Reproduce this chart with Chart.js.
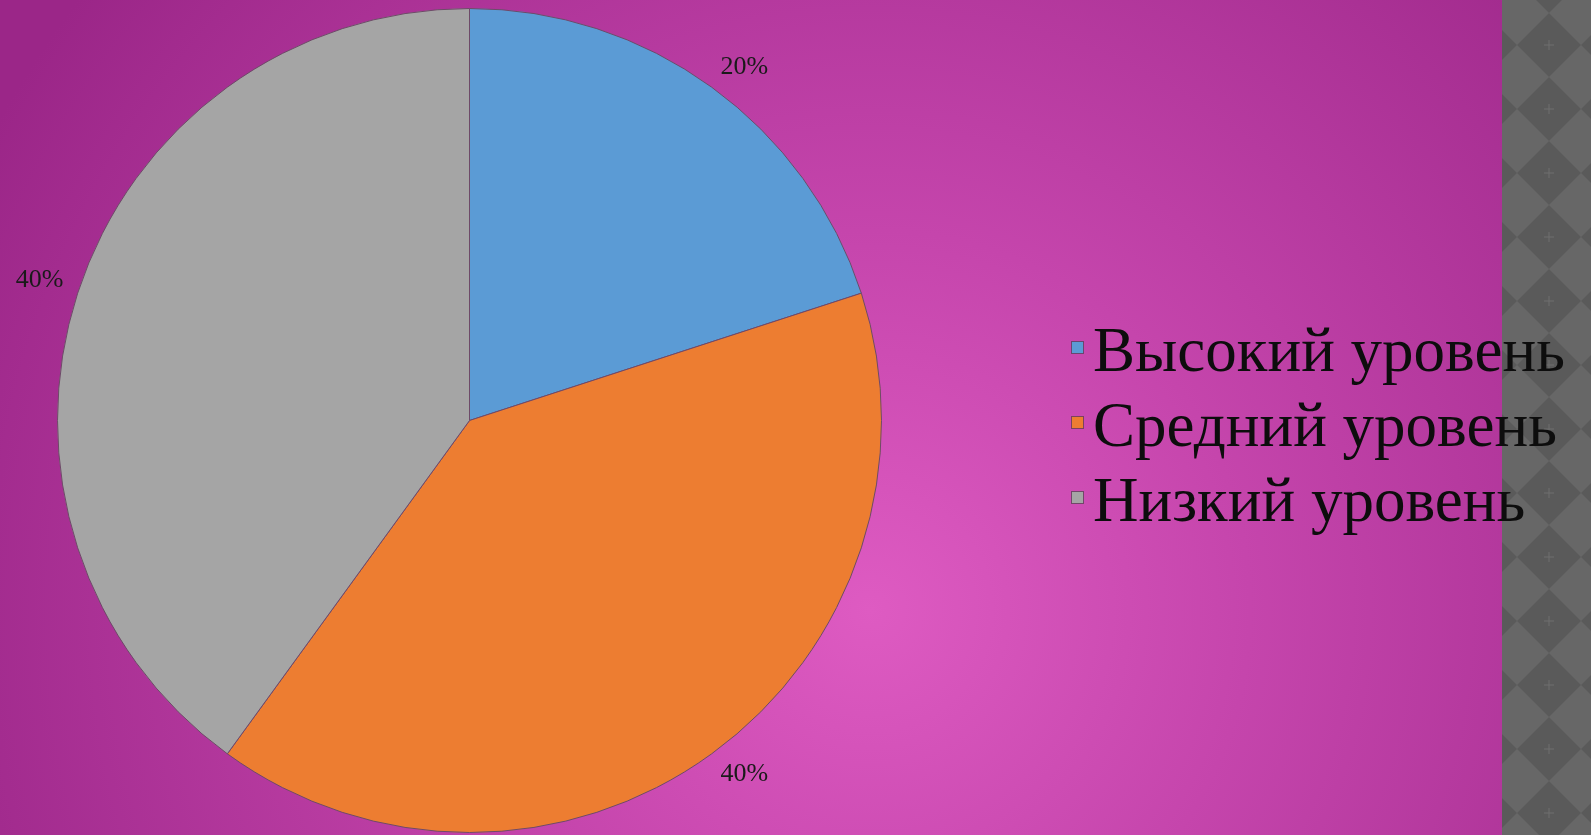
<!DOCTYPE html>
<html>
<head>
<meta charset="utf-8">
<script src="https://cdn.jsdelivr.net/npm/chart.js@4.4.1/dist/chart.umd.min.js"></script>
<style>
html, body { margin: 0; padding: 0; width: 1591px; height: 835px; overflow: hidden; background: #656565; }
#bg { position: absolute; left: 0; top: 0; width: 1502px; height: 835px;
  background: radial-gradient(circle 1000px at 870px 610px, #de5bc2 0%, #c545ac 38%, #9b2688 100%); }
#strip { position: absolute; left: 1502px; top: 0; width: 89px; height: 835px;
  background-color: #656565;
  background-image: url("data:image/svg+xml,%3Csvg xmlns='http://www.w3.org/2000/svg' width='64' height='64'%3E%3Crect width='64' height='64' fill='%23676767'/%3E%3Cpolygon points='32,0 64,32 32,64 0,32' fill='%235a5a5a'/%3E%3Cpath d='M32 27v10M27 32h10' stroke='%236e6e6e' stroke-width='1'/%3E%3C/svg%3E");
  background-position: 15px 13px; }
#wrap { position: absolute; left: 0; top: 0; width: 1591px; height: 835px; }
</style>
</head>
<body>
<div id="bg"></div>
<div id="strip"></div>
<div id="wrap"><canvas id="c" width="1591" height="835"></canvas></div>
<script>
// ---- data ----
const categories = ['Высокий уровень', 'Средний уровень', 'Низкий уровень'];
const values = [20, 40, 40];
const sliceColors = ['#5b9bd5', '#ed7d31', '#a5a5a5'];

// ---- plugins ----
const sliceLabels = {
  id: 'sliceLabels',
  afterDatasetsDraw(chart) {
    const ctx = chart.ctx;
    const meta = chart.getDatasetMeta(0);
    const ds = chart.data.datasets[0].data;
    const total = ds.reduce((a, b) => a + b, 0);
    ctx.save();
    ctx.font = '26px "Liberation Serif", "Times New Roman", serif';
    ctx.fillStyle = '#1a1a1a';
    ctx.textAlign = 'center';
    ctx.textBaseline = 'middle';
    meta.data.forEach((arc, i) => {
      const p = arc.getProps(['x', 'y', 'startAngle', 'endAngle', 'outerRadius'], true);
      const mid = (p.startAngle + p.endAngle) / 2;
      const ux = Math.cos(mid), uy = Math.sin(mid);
      const text = Math.round(ds[i] / total * 100) + '%';
      const w = ctx.measureText(text).width;
      const h = 16;
      const gap = 15;
      const ax = p.x + (p.outerRadius + gap) * ux;
      const ay = p.y + (p.outerRadius + gap) * uy;
      ctx.fillText(text, ax + Math.sign(ux) * w / 2, ay + Math.sign(uy) * h / 2);
    });
    ctx.restore();
  }
};

const sideLegend = {
  id: 'sideLegend',
  afterDraw(chart) {
    const ctx = chart.ctx;
    const items = chart.options.plugins.legend.labels.generateLabels(chart);
    ctx.save();
    ctx.font = '63px "Liberation Serif", "Times New Roman", serif';
    ctx.textBaseline = 'alphabetic';
    ctx.textAlign = 'left';
    const firstBaseline = 371, pitch = 75;
    items.forEach((it, i) => {
      const base = firstBaseline + i * pitch;
      ctx.fillStyle = it.fillStyle;
      ctx.fillRect(1071, base - 30, 13, 13);
      ctx.strokeStyle = 'rgba(110,60,100,0.9)';
      ctx.lineWidth = 1;
      ctx.strokeRect(1071.5, base - 29.5, 12, 12);
      ctx.fillStyle = '#0d0d0d';
      ctx.fillText(it.text, 1093, base);
    });
    ctx.restore();
  }
};

new Chart(document.getElementById('c'), {
  type: 'pie',
  data: {
    labels: categories,
    datasets: [{
      data: values,
      backgroundColor: sliceColors,
      borderColor: '#6e4a68',
      borderWidth: 1
    }]
  },
  options: {
    responsive: false,
    animation: false,
    devicePixelRatio: 1,
    layout: { padding: { left: 57, right: 709, top: 8, bottom: 2 } },
    plugins: {
      legend: { display: false },
      tooltip: { enabled: false }
    }
  },
  plugins: [sliceLabels, sideLegend]
});
</script>
</body>
</html>
